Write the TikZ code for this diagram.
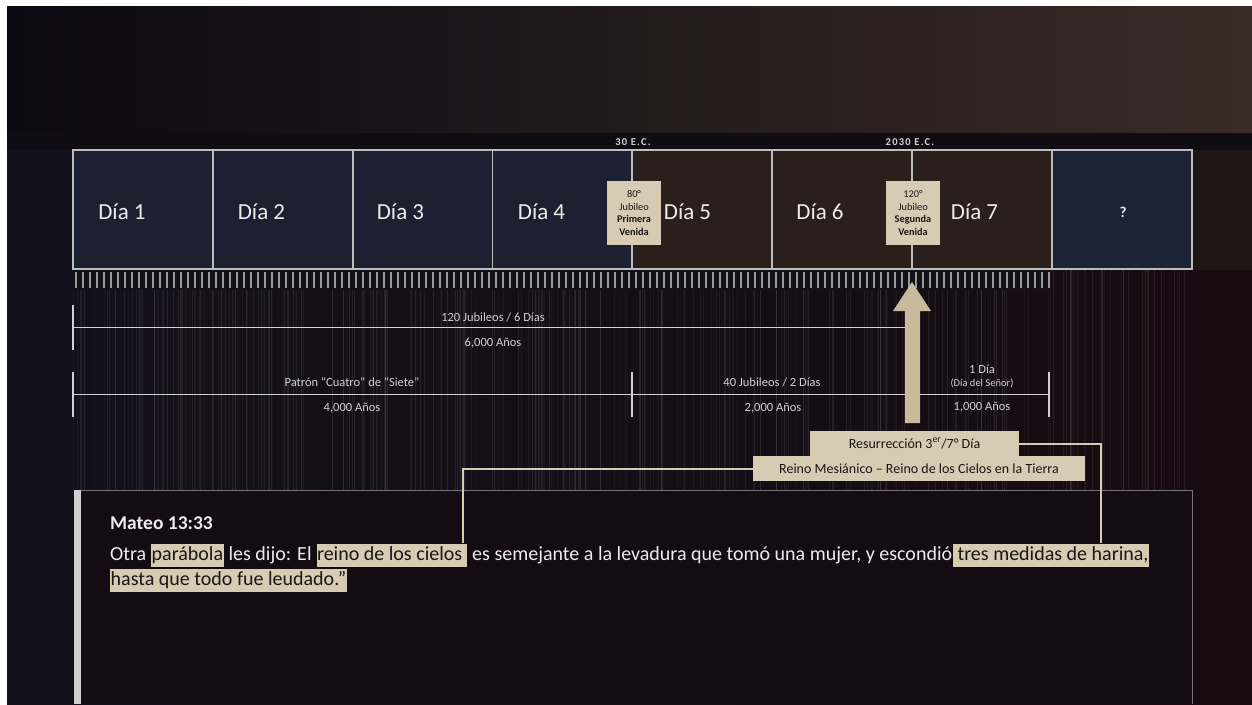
\documentclass[tikz,border=0pt]{standalone}
\usepackage{fontspec}
\setmainfont{Carlito}
\usetikzlibrary{calc}
\definecolor{bgL}{HTML}{0B0912}
\definecolor{bgM}{HTML}{191519}
\definecolor{bgR}{HTML}{3A2B26}
\definecolor{lowL}{HTML}{12111C}
\definecolor{lowR}{HTML}{170B10}
\definecolor{band}{HTML}{0F0D13}
\definecolor{navy}{HTML}{1D2030}
\definecolor{brownbox}{HTML}{2A1F1B}
\definecolor{qbox}{HTML}{1C2334}
\definecolor{framec}{HTML}{BDBDBD}
\definecolor{tanc}{HTML}{D8CBB4}
\definecolor{arrowtan}{HTML}{C9B99D}
\definecolor{txtc}{HTML}{ECECEC}
\definecolor{lblc}{HTML}{D2D2D2}
\definecolor{darkc}{HTML}{1A1614}
\definecolor{panelc}{HTML}{140C12}
\definecolor{ticksc}{HTML}{9A9A9A}
\definecolor{rightbox}{HTML}{1F1614}
\definecolor{tickbg}{HTML}{121018}
\definecolor{panelline}{HTML}{77727A}
\definecolor{barc}{HTML}{CFCFCF}
\begin{document}
\begin{tikzpicture}[x=1pt,y=-1pt,
  daybox/.style={draw=framec, line width=1.5pt, minimum width=140pt, minimum height=119pt, inner sep=0pt},
  daytxt/.style={text=txtc, font=\fontsize{23}{27}\selectfont, inner sep=0pt},
  jub/.style={fill=tanc, text=darkc, minimum width=54pt, minimum height=64pt, inner sep=0pt, align=center, font=\fontsize{10.3}{12.5}\selectfont},
  eclbl/.style={fill=band, text=lblc, inner xsep=4pt, inner ysep=2.5pt, font=\fontsize{10.5}{12}\selectfont\bfseries\addfontfeature{LetterSpace=12}},
  meas/.style={draw=lblc, line width=1.6pt},
  mlbl/.style={text=lblc, font=\fontsize{12.5}{14}\selectfont, inner sep=0pt},
  tanbox/.style={fill=tanc, text=darkc, inner sep=0pt, font=\fontsize{14}{16}\selectfont},
  conn/.style={draw=tanc, line width=2pt},
  body/.style={text=txtc, font=\fontsize{20}{24}\selectfont, inner sep=0pt, anchor=base west},
  hl/.style={body, fill=tanc, text=darkc, inner xsep=0.5pt, text height=15pt, text depth=5.3pt, inner ysep=1.5pt},
]
\useasboundingbox (0,0) rectangle (1252,704);
% background
\fill[white] (0,0) rectangle (1252,704);
\shade[left color=bgL, middle color=bgM, right color=bgR] (7,6) rectangle (1252,134);
\shade[left color=lowL, right color=lowR] (7,134) rectangle (1252,704);
\fill[band] (7,133) rectangle (1252,150);
\fill[rightbox] (1192,150) rectangle (1252,270);
% faint vertical stripes
\pgfmathsetseed{7}
\foreach \i in {0,...,300}{
  \pgfmathsetmacro\xx{73+rnd*1119}
  \pgfmathsetmacro\op{0.02+0.07*rnd}
  \draw[white, opacity=\op, line width=1pt] (\xx,270) -- (\xx,490);
}
% day boxes
\node[daybox, fill=navy] (d1) at (143,209.5) {};
\node[daybox, fill=navy] (d2) at (283,209.5) {};
\node[daybox, fill=navy] (d3) at (423,209.5) {};
\node[daybox, fill=navy] (d4) at (562.5,209.5) {};
\node[daybox, fill=brownbox] (d5) at (702,209.5) {};
\node[daybox, fill=brownbox] (d6) at (842,209.5) {};
\node[daybox, fill=brownbox] (d7) at (982,209.5) {};
\node[daybox, fill=qbox] (d8) at (1122,209.5) {};
\node[daytxt] (l1) at (122,212) {Día 1};
\node[daytxt] (l2) at (261.5,212) {Día 2};
\node[daytxt] (l3) at (400.5,212) {Día 3};
\node[daytxt] (l4) at (541.5,212) {Día 4};
\node[daytxt] (l5) at (687.5,212) {Día 5};
\node[daytxt] (l6) at (820,212) {Día 6};
\node[daytxt] (l7) at (974.5,212) {Día 7};
\node[text=txtc, font=\fontsize{15}{17}\selectfont\bfseries, inner sep=0pt] (l8) at (1123,212) {?};
% ticks
\fill[tickbg] (73,270) rectangle (1052,290);
\foreach \i in {0,...,139}{
  \draw[ticksc, line width=1.3pt] ({76+7*\i},272) -- ++(0,16);
}
% era labels
\node[eclbl] (e30) at (633,142) {30 E.C.};
\node[eclbl] (e2030) at (910,142) {2030 E.C.};
% jubilee boxes
\node[jub] (j80) at (634,213) {80°\\Jubileo\\\textbf{Primera}\\\textbf{Venida}};
\node[jub] (j120) at (913,213) {120°\\Jubileo\\\textbf{Segunda}\\\textbf{Venida}};
% measure line 1
\coordinate (a1) at (73,305);
\coordinate (a2) at (73,350);
\coordinate (m1s) at (73,327.5);
\coordinate (m1e) at (905,327.5);
\draw[meas] (a1) -- (a2);
\draw[meas] (m1s) -- (m1e);
\node[mlbl] (t120) at (493,317) {120 Jubileos / 6 Días};
\node[mlbl] (t6000) at (493,343) {6,000 Años};
% measure line 2
\coordinate (b1) at (73,372);
\coordinate (b1e) at (73,417);
\coordinate (b2) at (632,372);
\coordinate (b2e) at (632,417);
\coordinate (b3) at (1049,372);
\coordinate (b3e) at (1049,417);
\coordinate (m2s) at (73,394.5);
\coordinate (m2e) at (1049,394.5);
\draw[meas] (m2s) -- (m2e);
\draw[meas] (b1) -- (b1e);
\draw[meas] (b2) -- (b2e);
\draw[meas] (b3) -- (b3e);
\node[mlbl] (tpat) at (352,382) {Patrón “Cuatro” de “Siete”};
\node[mlbl] (t4000) at (352,408) {4,000 Años};
\node[mlbl] (t40) at (772,382) {40 Jubileos / 2 Días};
\node[mlbl] (t2000) at (773,408) {2,000 Años};
\node[mlbl] (t1d) at (982,369.5) {1 Día};
\node[mlbl, font=\fontsize{10.5}{12}\selectfont] (tsen) at (982,383) {(Día del Señor)};
\node[mlbl] (t1000) at (982,407.5) {1,000 Años};
% big arrow
\fill[arrowtan] (905,423) -- (905,311) -- (893,311) -- (912,282) -- (931,311) -- (920,311) -- (920,423) -- cycle;
% tan boxes
\node[tanbox, minimum width=209pt, minimum height=25pt] (res) at (914.5,443.5) {Resurrección 3\textsuperscript{er}/7° Día};
\node[tanbox, minimum width=332pt, minimum height=25pt] (reino) at (919,468.5) {Reino Mesiánico – Reino de los Cielos en la Tierra};
% bottom panel
\fill[panelc] (74,490) rectangle (1193,704);
\draw[panelline, line width=1pt] (80,490.5) -- (1192,490.5) -- (1192,704);
\fill[barc] (74,490) rectangle (81,704);
% text
\node[body, font=\fontsize{19.5}{23}\selectfont\bfseries] (mt) at (110,529) {Mateo 13:33};
\node[body] (s1) at (110,560) {Otra\ \mbox{}};
\node[hl] (h1) at (s1.base east) {parábola};
\node[body] (s2) at (h1.base east) {\ les dijo: El\ \mbox{}};
\node[hl] (h2) at (s2.base east) {reino de los cielos\ \mbox{}};
\node[body] (s3) at (h2.base east) {\ es semejante a la levadura que tomó una mujer, y escondió};
\node[hl] (h3) at (s3.base east) {\ tres medidas de harina,};
\node[hl] (h4) at (110,585) {hasta que todo fue leudado.”};
% connectors
\coordinate (c1) at ($(h2.north east)+(-5,0)$);
\coordinate (c2) at ($(h3.north east)+(-48,0)$);
\draw[conn] (reino.west) -| (c1);
\draw[conn] (res.east) -| (c2);
\end{tikzpicture}
\end{document}
